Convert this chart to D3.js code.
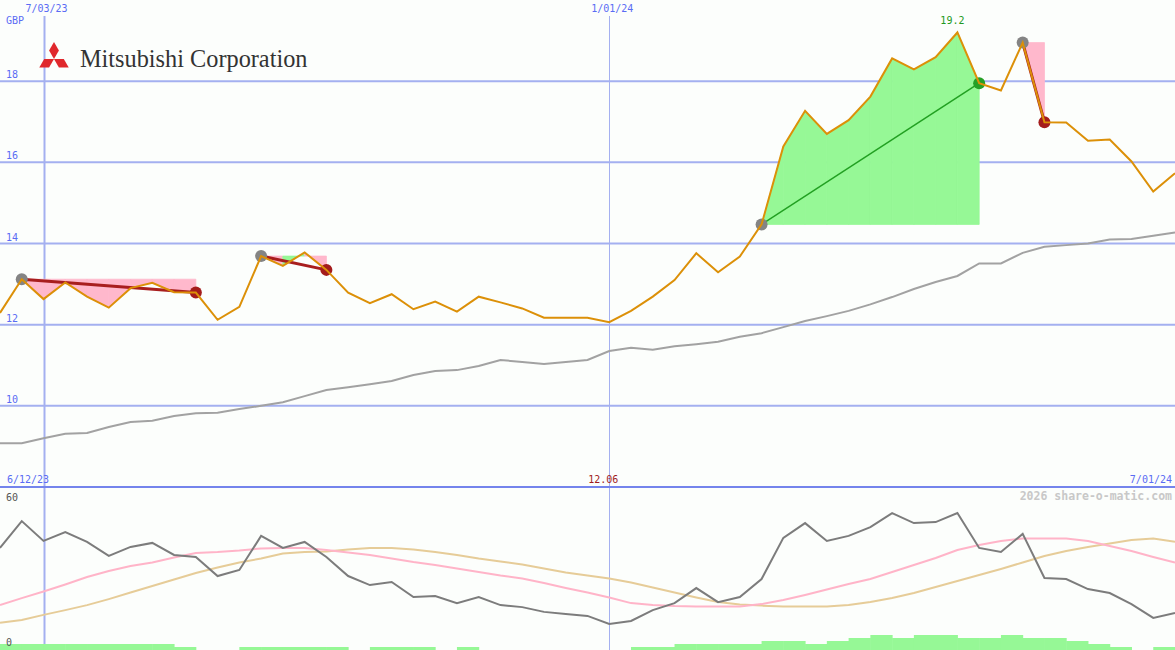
<!DOCTYPE html>
<html lang="en">
<head>
    <meta charset="UTF-8">
    <title>Mitsubishi Corporation - share-o-matic</title>
    <script src="https://d3js.org/d3.v7.min.js"></script>
    <style>
        body {
            margin: 0;
            background: #fcfefc;
        }
        svg {
            display: block;
        }
        .lbl {
            font-family: "DejaVu Sans Mono", monospace;
            font-size: 10px;
        }
    </style>
</head>
<body>
    <svg id="chart" width="1175" height="650"></svg>
    <script>
        // weekly closes, GBP
        const price = [12.29, 13.12, 12.63, 13.04, 12.69, 12.42, 12.90, 13.03, 12.80, 12.79,
            12.12, 12.44, 13.69, 13.45, 13.78, 13.35, 12.79, 12.53, 12.75, 12.38,
            12.57, 12.32, 12.69, 12.55, 12.40, 12.17, 12.17, 12.17, 12.06, 12.34,
            12.69, 13.10, 13.76, 13.29, 13.68, 14.47, 16.39, 17.27, 16.70, 17.04,
            17.62, 18.56, 18.29, 18.59, 19.20, 17.95, 17.77, 18.95, 16.99, 16.98,
            16.53, 16.56, 16.02, 15.28, 15.73];

        // long moving average
        const movAvg = [9.08, 9.08, 9.20, 9.31, 9.33, 9.48, 9.60, 9.63, 9.75, 9.82,
            9.83, 9.92, 10.00, 10.09, 10.24, 10.39, 10.46, 10.53, 10.61, 10.76,
            10.86, 10.88, 10.98, 11.13, 11.08, 11.03, 11.08, 11.13, 11.35, 11.43,
            11.38, 11.47, 11.52, 11.58, 11.70, 11.79, 11.94, 12.09, 12.21, 12.34,
            12.50, 12.68, 12.88, 13.05, 13.20, 13.51, 13.51, 13.77, 13.92, 13.96,
            14.00, 14.10, 14.11, 14.19, 14.27];

        // lower panel indicator + its two averages
        const osc = [40.7, 51.4, 43.5, 47.0, 43.1, 37.5, 41.1, 42.7, 37.9, 37.1,
            29.5, 31.9, 45.5, 40.7, 43.1, 37.1, 29.5, 25.9, 27.1, 21.1,
            21.5, 18.7, 21.1, 17.9, 17.1, 15.2, 14.4, 13.6, 10.4, 11.6,
            15.9, 18.7, 24.7, 19.1, 21.1, 28.3, 44.7, 50.6, 43.5, 45.5,
            49.0, 54.6, 50.6, 51.0, 54.6, 40.7, 39.1, 46.3, 28.7, 28.3,
            24.3, 22.7, 18.3, 12.8, 14.8];
        const oscFast = [17.9, 20.7, 23.3, 26.1, 29.1, 31.5, 33.5, 34.9, 36.9, 38.7,
            39.1, 39.7, 40.5, 40.7, 40.7, 39.9, 38.9, 37.9, 36.5, 35.1,
            33.9, 32.5, 31.1, 29.7, 28.5, 26.7, 24.7, 22.9, 20.9, 18.7,
            17.9, 17.5, 17.3, 17.3, 17.3, 18.3, 19.9, 21.9, 24.1, 26.3,
            28.3, 31.1, 33.9, 36.7, 39.9, 41.9, 43.5, 44.5, 44.5, 44.5,
            43.5, 41.5, 39.5, 37.1, 34.9];
        const oscSlow = [10.9, 12.0, 14.0, 15.9, 17.9, 20.3, 22.9, 25.5, 28.1, 30.7,
            32.9, 34.9, 36.5, 38.5, 39.1, 39.3, 40.1, 40.7, 40.7, 40.1,
            39.1, 37.9, 36.5, 35.3, 34.1, 32.5, 30.9, 29.7, 28.5, 26.9,
            24.9, 22.9, 20.9, 19.1, 18.1, 17.7, 17.3, 17.3, 17.3, 17.9,
            19.1, 20.7, 22.7, 25.1, 27.5, 29.9, 32.3, 34.9, 37.5, 39.5,
            41.1, 42.5, 43.9, 44.5, 43.2];

        // volume steps, one per week interval
        const volume = [2, 2, 2, 2, 2, 2, 2, 2, 1, 0, 0, 1, 1, 1, 1, 1, 0, 1, 1, 1,
            0, 1, 0, 0, 0, 0, 0, 0, 0, 1, 1, 2, 2, 2, 2, 3, 3, 2, 3, 4,
            5, 4, 5, 5, 4, 4, 5, 4, 4, 3, 2, 1, 0, 1];

        // trades as week indexes (entry, exit)
        const trades = [[1, 9], [12, 15], [35, 45], [47, 48]];

        const yTicks = [10, 12, 14, 16, 18];
        const gridDates = ["2023-07-03", "2024-01-01"];
        const gridLabels = ["7/03/23", "1/01/24"];
        const rangeLabels = ["6/12/23", "7/01/24"];

        const width = 1175, height = 650;
        const panelSplit = 487;

        const parse = d3.utcParse("%Y-%m-%d");
        const startDate = parse("2023-06-19"), endDate = parse("2024-07-01");
        const weeks = d3.utcMonday.range(startDate, d3.utcDay.offset(endDate, 1));

        const x = d3.scaleUtc().domain([startDate, endDate]).range([0, width]);
        const y = d3.scaleLinear().domain([8, 20]).range([panelSplit, 0]);
        const y2 = d3.scaleLinear().domain([0, 65]).range([height, panelSplit]);
        const yv = d3.scaleLinear().domain([0, 5]).range([height, height - 15]);

        const xi = i => x(weeks[i]);

        const svg = d3.select("#chart");

        svg.append("rect")
            .attr("width", width).attr("height", height)
            .attr("fill", "#fcfefc");

        // horizontal grid
        svg.selectAll(".hgrid")
            .data(yTicks)
            .enter().append("line")
            .attr("x1", 0).attr("x2", width)
            .attr("y1", d => y(d)).attr("y2", d => y(d))
            .attr("stroke", "#a4b0f0")
            .attr("stroke-width", 2);

        // vertical date lines
        svg.selectAll(".vgrid")
            .data(gridDates)
            .enter().append("line")
            .attr("x1", d => Math.round(x(parse(d))) + 0.5)
            .attr("x2", d => Math.round(x(parse(d))) + 0.5)
            .attr("y1", 16).attr("y2", height)
            .attr("stroke", "#a4b0f0")
            .attr("stroke-width", (d, i) => i === 0 ? 2 : 1);

        svg.append("line")
            .attr("x1", 0).attr("x2", width)
            .attr("y1", panelSplit).attr("y2", panelSplit)
            .attr("stroke", "#7484ec")
            .attr("stroke-width", 2);

        // moving average
        svg.append("path")
            .datum(movAvg)
            .attr("fill", "none")
            .attr("stroke", "#a2a2a2")
            .attr("stroke-width", 2)
            .attr("d", d3.line().x((d, i) => xi(i)).y(d => y(d)));

        // trade shading, one piece per week
        trades.forEach(([a, b]) => {
            const entry = price[a];
            d3.range(a, b).forEach(j => {
                const area = d3.area()
                    .x(i => xi(i))
                    .y0(y(entry))
                    .y1(i => y(price[i]));
                const col = price[j + 1] >= entry ? "#96f896" : "#ffb8cc";
                svg.append("path")
                    .datum([j, j + 1])
                    .attr("fill", col)
                    .attr("stroke", col)
                    .attr("stroke-width", 0.8)
                    .attr("d", area);
            });
        });

        trades.forEach(([a, b]) => {
            const win = price[b] > price[a];
            svg.append("line")
                .attr("x1", xi(a)).attr("y1", y(price[a]))
                .attr("x2", xi(b)).attr("y2", y(price[b]))
                .attr("stroke", win ? "#22a022" : "#a81e1e")
                .attr("stroke-width", win ? 1.5 : 3);
            svg.append("circle")
                .attr("cx", xi(a)).attr("cy", y(price[a]))
                .attr("r", 6).attr("fill", "#848484");
            svg.append("circle")
                .attr("cx", xi(b)).attr("cy", y(price[b]))
                .attr("r", 6).attr("fill", win ? "#26a026" : "#a41c1c");
        });

        // price
        svg.append("path")
            .datum(price)
            .attr("fill", "none")
            .attr("stroke", "#dc9008")
            .attr("stroke-width", 2)
            .attr("d", d3.line().x((d, i) => xi(i)).y(d => y(d)));

        // high / low labels
        const hi = d3.maxIndex(price), lo = d3.minIndex(price);
        svg.append("text").attr("class", "lbl")
            .attr("x", xi(hi) - 5).attr("y", y(price[hi]) - 8)
            .attr("text-anchor", "middle").attr("fill", "#229922")
            .text(price[hi].toFixed(1));
        svg.append("text").attr("class", "lbl")
            .attr("x", xi(lo) - 6).attr("y", panelSplit - 4)
            .attr("text-anchor", "middle").attr("fill", "#a01c1c")
            .text(price[lo].toFixed(2));

        // lower panel
        const oscLine = d3.line().x((d, i) => xi(i)).y(d => y2(d));
        [[oscSlow, "#e6cc98"], [oscFast, "#ffb4c8"], [osc, "#7c7c7c"]].forEach(([s, c]) => {
            svg.append("path")
                .datum(s)
                .attr("fill", "none")
                .attr("stroke", c)
                .attr("stroke-width", 2)
                .attr("d", oscLine);
        });

        svg.selectAll(".vol")
            .data(volume)
            .enter().append("rect")
            .attr("x", (d, i) => xi(i))
            .attr("width", (d, i) => xi(i + 1) - xi(i) + 0.5)
            .attr("y", d => yv(d))
            .attr("height", d => height - yv(d))
            .attr("fill", "#96f896");

        // texts
        svg.selectAll(".ytick")
            .data(yTicks)
            .enter().append("text").attr("class", "lbl")
            .attr("x", 6).attr("y", d => y(d) - 3)
            .attr("fill", "#5a6cf4")
            .text(d => d);

        svg.append("text").attr("class", "lbl")
            .attr("x", 6).attr("y", 24)
            .attr("fill", "#5a6cf4").text("GBP");

        svg.selectAll(".dlabel")
            .data(gridDates)
            .enter().append("text").attr("class", "lbl")
            .attr("x", d => x(parse(d)) + 3).attr("y", 12)
            .attr("text-anchor", "middle")
            .attr("fill", "#5a6cf4")
            .text((d, i) => gridLabels[i]);

        svg.append("text").attr("class", "lbl")
            .attr("x", 7).attr("y", panelSplit - 4)
            .attr("fill", "#5a6cf4").text(rangeLabels[0]);
        svg.append("text").attr("class", "lbl")
            .attr("x", width - 3).attr("y", panelSplit - 4)
            .attr("text-anchor", "end")
            .attr("fill", "#5a6cf4").text(rangeLabels[1]);

        svg.append("text").attr("class", "lbl")
            .attr("x", 6).attr("y", y2(60) + 1)
            .attr("fill", "#555").text("60");
        svg.append("text").attr("class", "lbl")
            .attr("x", 6).attr("y", y2(0) - 4)
            .attr("fill", "#555").text("0");

        svg.append("text")
            .attr("x", width - 3).attr("y", panelSplit + 13)
            .attr("text-anchor", "end")
            .style("font-family", "'DejaVu Sans Mono', monospace")
            .style("font-size", "11.5px")
            .style("font-weight", "bold")
            .attr("fill", "#c8c8c8")
            .text("2026 share-o-matic.com");

        // logo: three diamonds around a centre point
        const logo = svg.append("g").attr("transform", "translate(54,59)");
        const L = 17, w = L / 2 * Math.tan(Math.PI / 6);
        [-90, 150, 30].forEach(deg => {
            const a = deg * Math.PI / 180;
            const ux = Math.cos(a), uy = Math.sin(a);
            const nx = -uy, ny = ux;
            const pts = [[0, 0],
                [ux * L / 2 + nx * w, uy * L / 2 + ny * w],
                [ux * L, uy * L],
                [ux * L / 2 - nx * w, uy * L / 2 - ny * w]];
            logo.append("path")
                .attr("d", "M" + pts.map(p => p.join(",")).join("L") + "Z")
                .attr("fill", "#e0282c");
        });
        svg.append("text")
            .attr("x", 80).attr("y", 67)
            .style("font-family", "'Liberation Serif', serif")
            .style("font-size", "24.3px")
            .attr("fill", "#333")
            .text("Mitsubishi Corporation");
    </script>
</body>
</html>
